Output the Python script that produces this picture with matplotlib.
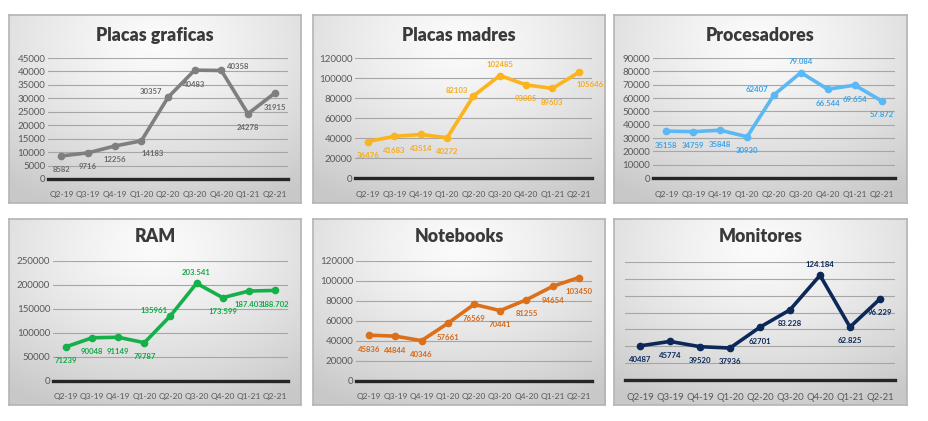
import numpy as np
import matplotlib
matplotlib.use('Agg')
import matplotlib.pyplot as plt

W, H = 929, 421

quarters = ['Q2-19', 'Q3-19', 'Q4-19', 'Q1-20', 'Q2-20', 'Q3-20', 'Q4-20', 'Q1-21', 'Q2-21']

graficas = [8582, 9716, 12256, 14183, 30357, 40483, 40358, 24278, 31915]
graficas_lbl = ['8582', '9716', '12256', '14183', '30357', '40483', '40358', '24278', '31915']

madres = [36476, 41683, 43514, 40272, 82103, 102485, 93085, 89603, 105646]
madres_lbl = ['36476', '41683', '43514', '40272', '82103', '102485', '93085', '89603', '105646']

procesadores = [35158, 34759, 35848, 30930, 62407, 79084, 66544, 69654, 57872]
procesadores_lbl = ['35158', '34759', '35848', '30930', '62407', '79.084', '66.544', '69.654', '57.872']

ram = [71239, 90048, 91149, 79787, 135961, 203541, 173599, 187403, 188702]
ram_lbl = ['71239', '90048', '91149', '79787', '135961', '203.541', '173.599', '187.403', '188.702']

notebooks = [45836, 44844, 40346, 57661, 76569, 70441, 81255, 94654, 103450]
notebooks_lbl = ['45836', '44844', '40346', '57661', '76569', '70441', '81255', '94654', '103450']

monitores = [40487, 45774, 39520, 37936, 62701, 83228, 124184, 62825, 96229]
monitores_lbl = ['40487', '45774', '39520', '37936', '62701', '83.228', '124.184', '62.825', '96.229']

plt.rcParams['font.family'] = ['Lato', 'DejaVu Sans']

fig = plt.figure(figsize=(W / 100, H / 100), dpi=100)


def px_rect(x0, y0, x1, y1):
    return [x0 / W, 1 - y1 / H, (x1 - x0) / W, (y1 - y0) / H]


# radial-ish gradient used for every panel background
gy, gx = np.mgrid[0:1:200j, 0:1:300j]
dist = np.sqrt(((gx - 0.5) * 1.0) ** 2 + ((gy - 0.15) * 0.9) ** 2)
grad = 0.985 - 0.2 * np.clip(dist / 0.85, 0, 1) ** 1.3
grad_rgb = np.dstack([grad, grad, grad])

title_y = {15: 35, 219: 237}


def panel(box, plot, title, vals, lbls, color, lblcolor, ymax, ystep, places,
          show_y=True, xsize=6.0):
    bg = fig.add_axes(px_rect(*box))
    bg.imshow(grad_rgb, aspect='auto', extent=[0, 1, 0, 1])
    bg.set_xticks([]); bg.set_yticks([])
    for s in bg.spines.values():
        s.set_color('#b4b4b4'); s.set_linewidth(1.2)
    bg.text(0.5, 1 - (title_y[box[1]] - box[1]) / (box[3] - box[1]), title,
            transform=bg.transAxes, ha='center', va='center',
            fontsize=12.8, fontweight='heavy', color='#3a3a3a')

    ax = fig.add_axes(px_rect(*plot))
    ax.patch.set_alpha(0)
    x = np.arange(len(vals))
    ax.set_xlim(-0.5, len(vals) - 0.5)
    ax.set_ylim(0, ymax)
    ticks = np.arange(0, ymax + 1, ystep)
    ax.set_yticks(ticks)
    for t in ticks[1:]:
        ax.axhline(t, color='#a6a6a6', lw=0.8, zorder=1)
    ax.axhline(0, color='#262626', lw=2.4, zorder=2, clip_on=False)
    ax.plot(x, vals, color=color, lw=2.6, marker='o', ms=4.5, zorder=3,
            solid_joinstyle='round', clip_on=False)
    for s in ax.spines.values():
        s.set_visible(False)
    ax.set_xticks(x)
    ax.set_xticklabels(quarters)
    ax.tick_params(axis='x', length=0, pad=9, labelsize=xsize, labelcolor='#595959')
    if show_y:
        ax.tick_params(axis='y', length=0, pad=2, labelsize=7.0, labelcolor='#595959')
    else:
        ax.set_yticklabels([])
        ax.tick_params(axis='y', length=0)
    offs = {'b': (0, -10), 'a': (0, 8), 'l': (-12, 4), 'r': (12, 3), 'br': (8, -9)}
    for xi, v, t, p in zip(x, vals, lbls, places):
        dx, dy = offs[p]
        ax.annotate(t, (xi, v), xytext=(dx, dy), textcoords='offset points',
                    ha='center', va='center', fontsize=5.6, fontweight='bold',
                    color=lblcolor, zorder=4)


panel((9, 15, 301, 203), (48, 58, 288, 179), 'Placas graficas', graficas, graficas_lbl,
      '#7f7f7f', '#6a6a6a', 45000, 5000, ['b', 'b', 'b', 'br', 'l', 'b', 'r', 'b', 'b'])
panel((313, 15, 605, 203), (355, 58, 592, 178), 'Placas madres', madres, madres_lbl,
      '#fdb41c', '#f6ad1e', 120000, 20000, ['b', 'b', 'b', 'b', 'l', 'a', 'b', 'b', 'br'])
panel((614, 15, 907, 203), (653, 58, 895, 178), 'Procesadores', procesadores, procesadores_lbl,
      '#5bb8f5', '#3aa4ea', 90000, 10000, ['b', 'b', 'b', 'b', 'l', 'a', 'b', 'b', 'b'])
panel((9, 219, 301, 405), (53, 261, 288, 381), 'RAM', ram, ram_lbl,
      '#16b04a', '#16a84a', 250000, 50000, ['b', 'b', 'b', 'b', 'l', 'a', 'b', 'b', 'b'])
panel((313, 219, 605, 405), (356, 261, 592, 381), 'Notebooks', notebooks, notebooks_lbl,
      '#dc6f1a', '#d4691a', 120000, 20000, ['b'] * 9)
panel((614, 219, 907, 405), (625, 262, 895, 380), 'Monitores', monitores, monitores_lbl,
      '#0b2858', '#0b2858', 140000, 20000, ['b', 'b', 'b', 'b', 'b', 'b', 'a', 'b', 'b'],
      show_y=False, xsize=6.8)

fig.savefig('out.png', dpi=100)
